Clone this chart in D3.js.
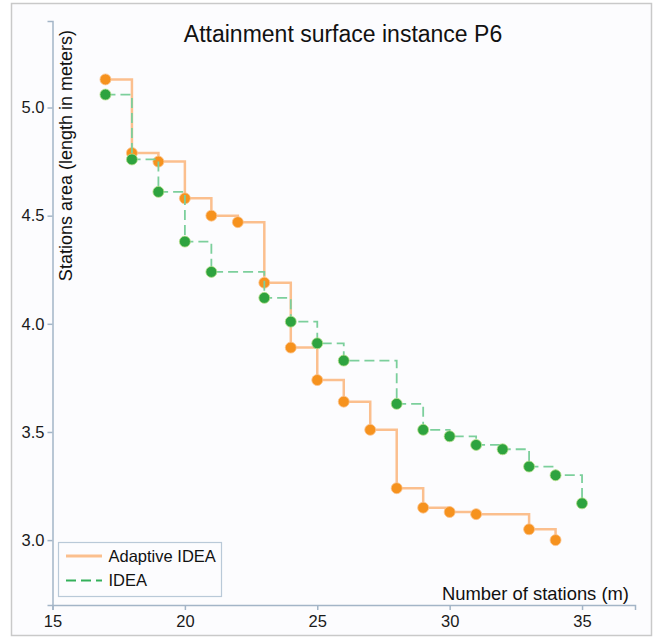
<!DOCTYPE html>
<html>
<head>
<meta charset="utf-8">
<script src="https://cdn.jsdelivr.net/npm/d3@7"></script>
<style>
  html, body { margin: 0; padding: 0; background: #fff; }
  svg { display: block; font-family: "Liberation Sans", Arial, sans-serif; }
</style>
</head>
<body>
<div id="chart"></div>
<script>
// series values
const adaptiveX = [17, 18, 19, 20, 21, 22, 23, 24, 25, 26, 27, 28, 29, 30, 31, 33, 34];
const adaptiveY = [5.13, 4.79, 4.75, 4.58, 4.50, 4.47, 4.19, 3.89, 3.74, 3.64, 3.51, 3.24, 3.15, 3.13, 3.12, 3.05, 3.00];
const ideaX = [17, 18, 19, 20, 21, 23, 24, 25, 26, 28, 29, 30, 31, 32, 33, 34, 35];
const ideaY = [5.06, 4.76, 4.61, 4.38, 4.24, 4.12, 4.01, 3.91, 3.83, 3.63, 3.51, 3.48, 3.44, 3.42, 3.34, 3.30, 3.17];
const xTicks = [15, 20, 25, 30, 35];
const yTicks = [3.0, 3.5, 4.0, 4.5, 5.0];
const legendNames = ['Adaptive IDEA', 'IDEA'];

const W = 662, H = 640;
const axisCol = '#a3b5c7';

const svg = d3.select('#chart').append('svg').attr('width', W).attr('height', H);

// frame
svg.append('rect').attr('x', 11.5).attr('y', 3.5).attr('width', 640).attr('height', 632)
  .attr('fill', '#fcfcfe').attr('stroke', '#c9c9c9').attr('stroke-width', 1.5);

const x = d3.scaleLinear().domain([15, 37]).range([52.5, 635]);
const y = d3.scaleLinear().domain([2.7, 5.4]).range([605, 21]);

// axes
const xAxis = svg.append('g').attr('transform', `translate(0,${y.range()[0]})`)
  .call(d3.axisBottom(x).tickValues(xTicks).tickSize(5).tickSizeOuter(5).tickFormat(d3.format('d')));
const yAxis = svg.append('g').attr('transform', `translate(${x.range()[0]},0)`)
  .call(d3.axisLeft(y).tickValues(yTicks).tickSize(5).tickSizeOuter(5).tickFormat(d3.format('.1f')));
[xAxis, yAxis].forEach(g => {
  g.select('.domain').attr('stroke', axisCol).attr('stroke-width', 1.5);
  g.selectAll('.tick line').attr('stroke', axisCol).attr('stroke-width', 1.5);
  g.selectAll('.tick text').attr('fill', '#1a1a1a').attr('font-size', 16.5)
    .attr('font-family', '"Liberation Sans", Arial, sans-serif');
});
xAxis.selectAll('.tick text').attr('dy', '0.85em');
yAxis.selectAll('.tick text').attr('x', -8);

// titles
svg.append('text').attr('x', 343).attr('y', 42).attr('text-anchor', 'middle')
  .attr('font-size', 23).attr('fill', '#111').text('Attainment surface instance P6');
svg.append('text').attr('transform', 'translate(71.5,30) rotate(-90)').attr('text-anchor', 'end')
  .attr('font-size', 18).attr('fill', '#111').text('Stations area (length in meters)');
svg.append('text').attr('x', 629).attr('y', 600).attr('text-anchor', 'end')
  .attr('font-size', 18.4).attr('fill', '#111').text('Number of stations (m)');

const line = d3.line().curve(d3.curveStepAfter).x(d => x(d[0])).y(d => y(d[1]));
const adaptive = adaptiveX.map((v, i) => [v, adaptiveY[i]]);
const idea = ideaX.map((v, i) => [v, ideaY[i]]);

// Adaptive IDEA
svg.append('path').datum(adaptive).attr('d', line)
  .attr('fill', 'none').attr('stroke', '#fbbf8e').attr('stroke-width', 2.5);
svg.append('g').selectAll('circle').data(adaptive).join('circle')
  .attr('cx', d => x(d[0])).attr('cy', d => y(d[1])).attr('r', 5.5)
  .attr('fill', '#f6921e').attr('stroke', '#fbc48f').attr('stroke-width', 0.8);

// IDEA
svg.append('path').datum(idea).attr('d', line)
  .attr('fill', 'none').attr('stroke', '#7ccf9c').attr('stroke-width', 1.8)
  .attr('stroke-dasharray', '10,5');
svg.append('g').selectAll('circle').data(idea).join('circle')
  .attr('cx', d => x(d[0])).attr('cy', d => y(d[1])).attr('r', 5.5)
  .attr('fill', '#2ea33f').attr('stroke', '#b6e08c').attr('stroke-width', 0.8);

// legend
const lg = svg.append('g');
lg.append('rect').attr('x', 58.5).attr('y', 542.5).attr('width', 163).attr('height', 54)
  .attr('fill', '#fcfcfe').attr('stroke', '#b9c9d8').attr('stroke-width', 1.2);
const legendStyle = [
  { stroke: '#fbbf8e', width: 2.8, dash: null },
  { stroke: '#34b05a', width: 1.8, dash: '10,5' },
];
legendNames.forEach((name, i) => {
  const yy = 556 + i * 24.5;
  lg.append('line').attr('x1', 66).attr('x2', 102).attr('y1', yy).attr('y2', yy)
    .attr('stroke', legendStyle[i].stroke).attr('stroke-width', legendStyle[i].width)
    .attr('stroke-dasharray', legendStyle[i].dash);
  lg.append('text').attr('x', 108.5).attr('y', yy).attr('dy', '0.35em')
    .attr('font-size', 16.5).attr('fill', '#111').text(name);
});
</script>
</body>
</html>
